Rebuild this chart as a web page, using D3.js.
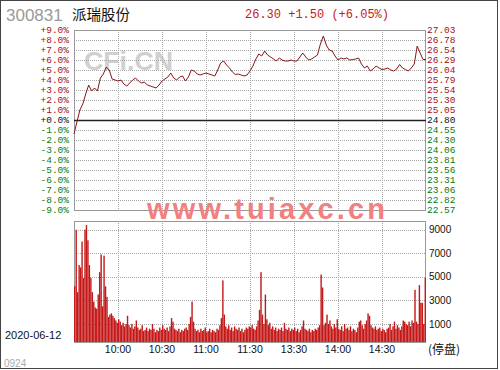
<!DOCTYPE html>
<html><head><meta charset="utf-8">
<script src="https://cdn.jsdelivr.net/npm/d3@7/dist/d3.min.js"></script>
<style>body{margin:0;background:#fff}svg{display:block}</style>
</head><body>
<svg id="c" width="500" height="370"></svg>
<script>
// ---------- data ----------
const stockCode = "300831";
const stockName = "派瑞股份";
const quoteText = "26.30 +1.50 (+6.05%)";
const dateText = "2020-06-12";
const prevClose = 24.80;
const timeLabels = ["10:00","10:30","11:00","11:30","13:30","14:00","14:30"];
const pctTicks = [9,8,7,6,5,4,3,2,1,0,-1,-2,-3,-4,-5,-6,-7,-8,-9];
const priceTickLabels = ["27.03","26.78","26.54","26.29","26.04","25.79","25.54","25.30","25.05","24.80",
  "24.55","24.30","24.06","23.81","23.56","23.31","23.06","22.82","22.57"];
const volumeTicks = [9000,7000,5000,3000,1000];
// percent change every 2 minutes from 9:30 (121 points)
const pricePct = [
 -1.4,-0.2,1.0,1.6,2.6,3.5,2.9,3.2,2.9,4.2,
 4.6,5.3,5.0,4.1,4.0,3.9,4.0,3.6,3.4,3.7,
 4.0,4.2,3.9,3.7,3.8,3.5,3.4,3.3,3.2,3.5,
 3.9,4.1,4.3,4.7,4.2,4.0,4.3,4.4,3.9,4.3,
 5.0,4.9,4.6,4.5,4.6,4.7,4.6,4.5,4.4,5.0,
 5.7,5.9,5.5,5.2,4.8,4.55,4.6,4.5,4.4,4.5,
 4.9,5.4,6.1,6.6,6.4,6.9,6.5,6.3,6.1,5.9,
 6.2,6.0,5.9,5.9,6.0,5.9,5.9,6.3,6.7,6.3,
 6.0,6.1,6.3,6.5,7.6,8.4,7.5,7.0,6.9,6.4,
 6.0,6.2,6.1,6.2,6.0,6.05,6.1,6.2,5.6,5.2,
 5.4,4.9,5.1,5.4,5.2,5.05,5.1,5.2,5.0,4.9,
 5.1,5.55,5.2,5.05,4.9,5.2,5.6,7.4,6.7,6.05,
 6.05];
// volume per minute (240 bars)
const volumes = [
 4200,9000,3700,6000,5800,8000,4900,9000,9400,8100,
 6000,4900,3700,2900,2400,2300,3500,5400,6900,2500,
 6800,4200,3300,1600,1800,1900,1700,1500,1300,1100,
 1400,1200,900,1100,800,1000,1700,900,700,1000,
 600,800,1300,700,500,600,900,400,500,700,
 400,600,500,1000,600,300,500,400,700,500,
 900,600,500,700,400,800,1500,1200,600,500,
 400,600,300,500,400,600,700,500,1000,1600,
 2900,1200,600,400,500,300,600,400,500,700,
 300,400,600,300,500,400,300,600,500,900,
 1500,4700,1800,800,600,900,500,700,400,800,
 600,500,700,400,600,300,500,700,600,800,
 700,900,600,500,800,1300,2200,5400,1800,1000,
 3500,1400,900,1100,600,800,500,700,400,600,
 500,700,400,1100,600,500,700,400,600,500,
 700,400,600,300,500,800,1300,600,500,400,
 600,300,500,400,600,500,700,900,5200,4100,
 900,1100,1800,1000,1300,800,600,1000,700,1400,
 600,500,800,400,1000,600,700,500,800,400,
 600,500,300,700,1200,1300,900,600,1000,1300,
 1900,1700,900,700,600,800,500,600,700,400,
 600,500,300,600,700,1000,500,800,1200,600,
 900,700,500,800,1300,1200,1000,900,1200,800,
 1300,1100,3900,1200,1000,4300,2800,2800,1000,4900];

// ---------- layout ----------
const L = 74, R = 426;
const pTop = 30, pBot = 210;
const vTop = 221, vBot = 342;
const svg = d3.select("#c");
const x = d3.scaleLinear().domain([0,240]).range([L,R]);
const yP = d3.scaleLinear().domain([-9,9]).range([pBot,pTop]);
const yV = d3.scaleLinear().domain([1000,9000]).range([324,229.7]);
const red = "#a81010", green = "#0a7a0a";
const grid = "#a8a8a8";

// outer border
svg.append("rect").attr("x",0.5).attr("y",0.5).attr("width",497).attr("height",368)
  .attr("fill","none").attr("stroke","#444");

// titles
svg.append("text").attr("x",6).attr("y",21).text(stockCode)
  .attr("font-family","Liberation Sans").attr("font-size",17).attr("fill","#9a9a9a");
svg.append("text").attr("x",72).attr("y",20).text(stockName)
  .attr("font-family","Noto Sans CJK SC").attr("font-size",14.5).attr("fill","#111");
svg.append("text").attr("x",245).attr("y",18).text(quoteText)
  .attr("font-family","Liberation Mono").attr("font-size",12).attr("fill","#c41a1a");

// watermark CFi.CN (behind)
svg.append("text").attr("x",84).attr("y",70).text("CFi.CN")
  .attr("font-family","Liberation Sans").attr("font-weight","bold").attr("font-size",26)
  .attr("fill","#d0d0d0").attr("textLength",89).attr("lengthAdjust","spacingAndGlyphs");

// price panel gridlines
const gP = svg.append("g");
pctTicks.forEach(p=>{
  if (p===0) return;
  gP.append("line").attr("x1",L).attr("x2",R).attr("y1",yP(p)+0.5).attr("y2",yP(p)+0.5)
    .attr("stroke",grid).attr("stroke-dasharray","1,1");
});
timeLabels.forEach((t,i)=>{
  const xx = Math.round(x((i+1)*30))+0.5;
  [[pTop,pBot],[vTop,vBot]].forEach(([a,b])=>{
    svg.append("line").attr("x1",xx).attr("x2",xx).attr("y1",a).attr("y2",b)
      .attr("stroke",grid).attr("stroke-dasharray","1,1");
  });
});
volumeTicks.forEach(v=>{
  svg.append("line").attr("x1",L).attr("x2",R).attr("y1",Math.round(yV(v))+0.5).attr("y2",Math.round(yV(v))+0.5)
    .attr("stroke",grid).attr("stroke-dasharray","1,1");
});

// panel borders
svg.append("rect").attr("x",L+0.5).attr("y",pTop+0.5).attr("width",R-L-1).attr("height",pBot-pTop)
  .attr("fill","none").attr("stroke","#999");
svg.append("rect").attr("x",L+0.5).attr("y",vTop+0.5).attr("width",R-L-1).attr("height",vBot-vTop)
  .attr("fill","none").attr("stroke","#999");
// zero line
svg.append("line").attr("x1",L).attr("x2",R).attr("y1",yP(0)+0.5).attr("y2",yP(0)+0.5)
  .attr("stroke","#222").attr("stroke-width",1.5);

// left % labels
pctTicks.forEach(p=>{
  const s = (p<0?"-":"+") + Math.abs(p).toFixed(1) + "%";
  svg.append("text").attr("x",69).attr("y",yP(p)).attr("dy","0.35em").attr("text-anchor","end")
    .text(s).attr("font-family","Liberation Mono").attr("font-size",9.5)
    .attr("fill", p>0?red:(p<0?green:"#111"));
});
// right price labels
priceTickLabels.forEach((s,i)=>{
  const p = pctTicks[i];
  svg.append("text").attr("x",427).attr("y",yP(p)).attr("dy","0.35em")
    .text(s).attr("font-family","Liberation Mono").attr("font-size",9.5)
    .attr("fill", p>0?red:(p<0?green:"#111"));
});
// volume labels
volumeTicks.forEach(v=>{
  svg.append("text").attr("x",429).attr("y",yV(v)).attr("dy","0.35em").text(v)
    .attr("font-family","Liberation Sans").attr("font-size",10).attr("fill","#111");
});

// price line
svg.append("path").datum(pricePct)
  .attr("d", d3.line().x((d,i)=>x(i*2)).y(d=>yP(d)))
  .attr("fill","none").attr("stroke","#8a1414").attr("stroke-width",1);

// volume bars
svg.append("g").selectAll("rect").data(volumes).join("rect")
  .attr("x",(d,i)=>x(i+0.5)-0.7).attr("width",1.4)
  .attr("y",d=>yV(d)).attr("height",d=>vBot-yV(d))
  .attr("fill","#c41818");

// time labels
timeLabels.forEach((t,i)=>{
  svg.append("text").attr("x",x((i+1)*30)).attr("y",352.5).attr("text-anchor","middle").text(t)
    .attr("font-family","Liberation Sans").attr("font-size",10.5).attr("fill","#111");
});
svg.append("text").attr("x",428).attr("y",354).text("(停盘)")
  .attr("font-family","Noto Sans CJK SC").attr("font-size",12).attr("fill","#111");
svg.append("text").attr("x",5).attr("y",339).text(dateText)
  .attr("font-family","Liberation Sans").attr("font-size",11).attr("fill","#111");
svg.append("text").attr("x",4).attr("y",367).text("0924")
  .attr("font-family","Liberation Sans").attr("font-size",10).attr("fill","#aaa");

// watermark www.tuiaxc.cn
svg.append("text").attr("x",147).attr("y",219).text("www.tuiaxc.cn")
  .attr("font-family","Liberation Sans").attr("font-weight","bold").attr("font-size",29)
  .attr("fill","#f28080").attr("textLength",238).attr("lengthAdjust","spacing");
</script>
</body></html>
